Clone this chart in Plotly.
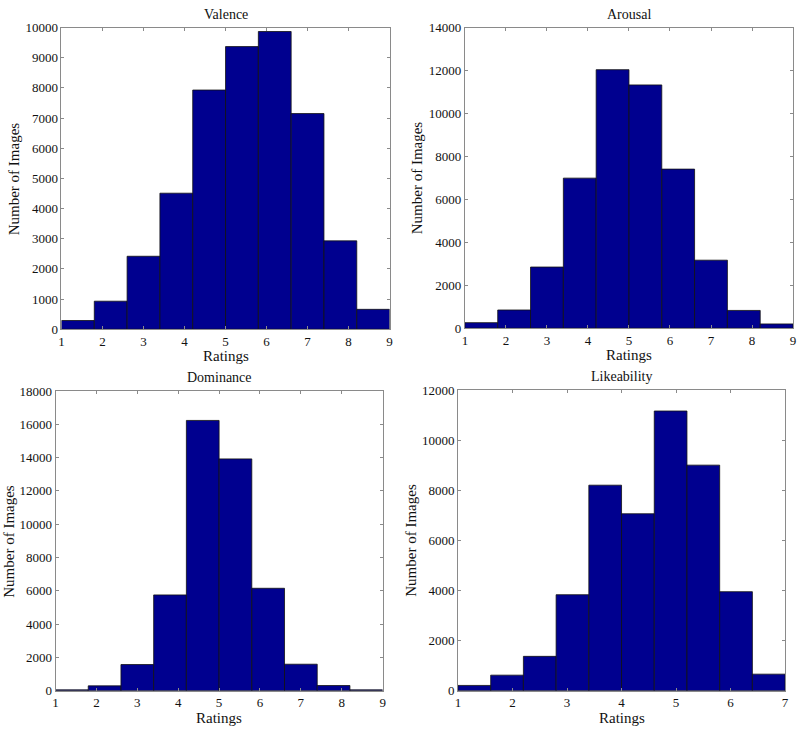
import numpy as np
import plotly.graph_objects as go

titles = ["Valence", "Arousal", "Dominance", "Likeability"]
valence = [290, 930, 2420, 4510, 7930, 9370, 9870, 7150, 2930, 660]
arousal = [260, 850, 2850, 6990, 12040, 11330, 7410, 3170, 830, 200]
dominance = [50, 290, 1570, 5750, 16230, 13920, 6150, 1590, 310, 50]
likeability = [210, 620, 1370, 3830, 8200, 7060, 11160, 9000, 3950, 660]
x_ranges = [(1, 9), (1, 9), (1, 9), (1, 7)]
y_max = [10000, 14000, 18000, 12000]
y_dtick = [1000, 2000, 2000, 2000]
series = [valence, arousal, dominance, likeability]

xdom = [[0.07375, 0.4875], [0.5825, 0.99625], [0.06625, 0.47875], [0.57375, 0.98625]]
ydom = [[0.5493, 0.9712], [0.5507, 0.9712], [0.0438, 0.463], [0.0438, 0.4644]]

font = "Liberation Serif"
fig = go.Figure()
layout = dict(width=800, height=730, margin=dict(l=0, r=0, t=0, b=0),
              paper_bgcolor="white", plot_bgcolor="white", showlegend=False,
              font=dict(family=font, size=13, color="#111"))
annotations = []
for i in range(4):
    lo, hi = x_ranges[i]
    edges = np.linspace(lo, hi, 11)
    centers = (edges[:-1] + edges[1:]) / 2
    width = edges[1] - edges[0]
    sfx = "" if i == 0 else str(i + 1)
    fig.add_trace(go.Bar(x=centers, y=series[i], width=width,
                         marker=dict(color="#00008F", line=dict(color="#111", width=0.8)),
                         xaxis="x" + sfx, yaxis="y" + sfx))
    common = dict(showline=True, mirror="ticks", linecolor="#8a8a8a", linewidth=1,
                  ticks="inside", ticklen=3, tickcolor="#8a8a8a", showgrid=False,
                  zeroline=False, tickfont=dict(family=font, size=13, color="#111"))
    layout["xaxis" + sfx] = dict(domain=xdom[i], range=[lo, hi], anchor="y" + sfx,
                                 dtick=1, tick0=lo, ticklabelstandoff=0, **common)
    layout["yaxis" + sfx] = dict(domain=ydom[i], range=[0, y_max[i]], anchor="x" + sfx,
                                 dtick=y_dtick[i], tickformat="d", ticklabelstandoff=0, **common)
    xm = (xdom[i][0] + xdom[i][1]) / 2
    annotations.append(dict(text=titles[i], x=xm, y=ydom[i][1], xref="paper", yref="paper",
                            xanchor="center", yanchor="bottom", yshift=4, showarrow=False,
                            font=dict(family=font, size=14, color="#111")))
    annotations.append(dict(text="Ratings", x=xm, y=ydom[i][0], xref="paper", yref="paper",
                            xanchor="center", yanchor="top", yshift=-18, borderpad=0,
                            showarrow=False, font=dict(family=font, size=15, color="#111")))
yt_x = [12 / 800, 418 / 800, 6 / 800, 412 / 800]
for i in range(4):
    ym = (ydom[i][0] + ydom[i][1]) / 2
    annotations.append(dict(text="Number of Images", x=yt_x[i], y=ym, xref="paper", yref="paper",
                            textangle=-90, showarrow=False, xanchor="center", yanchor="middle",
                            font=dict(family=font, size=15, color="#111")))
layout["annotations"] = annotations
fig.update_layout(**layout)
fig.write_html("out.html", config={"displayModeBar": False},
               post_script="document.body.style.margin='0';document.body.style.overflow='hidden';")
